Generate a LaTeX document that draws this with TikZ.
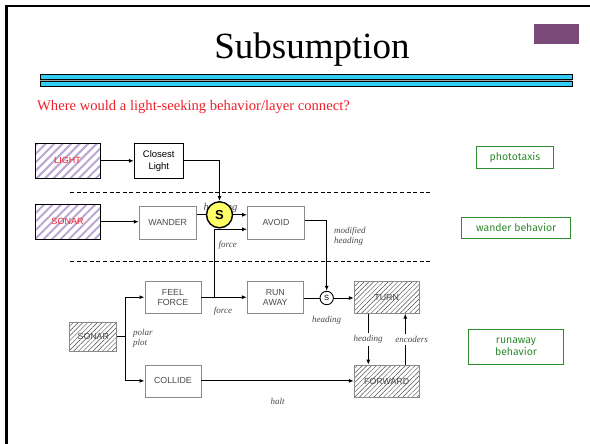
\documentclass[tikz,border=0pt]{standalone}
\usepackage{fontspec}
\setmainfont{Liberation Serif}
\setsansfont{Liberation Sans}
\newfontfamily\notefont{Fira Sans}
\usetikzlibrary{arrows.meta,patterns.meta}

\definecolor{slidepurple}{HTML}{7B4A78}
\definecolor{barcyan}{HTML}{33CCF5}
\definecolor{hatchpurple}{HTML}{BBA6D2}
\definecolor{questred}{HTML}{F0202A}
\definecolor{layergreen}{HTML}{2E8B2E}
\definecolor{boxgrey}{HTML}{8A8A8A}
\definecolor{textgrey}{HTML}{4A4A4A}
\definecolor{sensyellow}{HTML}{FFFF66}

\tikzset{
  sensorbox/.style={draw=black, line width=0.9pt, inner sep=0pt,
    pattern={Lines[angle=45,distance=6pt,line width=2pt]}, pattern color=hatchpurple,
    text=questred, font=\sffamily\fontsize{9}{10}\selectfont},
  plainbox/.style={draw=black, line width=0.9pt, inner sep=0pt, fill=white,
    align=center, font=\sffamily\fontsize{9.5}{11.5}\selectfont},
  behbox/.style={draw=boxgrey, line width=0.8pt, inner sep=0pt, fill=white,
    align=center, text=textgrey, font=\sffamily\fontsize{8.8}{10.2}\selectfont},
  hatchbox/.style={draw=boxgrey, line width=0.8pt, inner sep=0pt,
    pattern={Lines[angle=45,distance=3.4pt,line width=0.45pt]}, pattern color=textgrey,
    text=textgrey, align=center, font=\sffamily\fontsize{8.8}{10.2}\selectfont},
  layerbox/.style={draw=layergreen, line width=1.1pt, inner sep=0pt, fill=white,
    text=layergreen, align=center, font=\notefont\fontsize{10.5}{12}\selectfont},
  suppress/.style={circle, draw=black, line width=1.4pt, fill=sensyellow, inner sep=0pt,
    minimum size=26pt, font=\sffamily\bfseries\fontsize{13}{13}\selectfont},
  smallsup/.style={circle, draw=black, line width=0.9pt, fill=white, inner sep=0pt,
    minimum size=13.4pt, font=\sffamily\fontsize{7.5}{7.5}\selectfont},
  wire/.style={line width=1pt, draw=black},
  arr/.style={wire, -{Latex[length=5pt,width=4pt]}},
  lbl/.style={font=\itshape\fontsize{9}{10}\selectfont, text=textgrey, inner sep=0pt},
  gaplbl/.style={lbl, fill=white, inner xsep=0.5pt, inner ysep=2pt},
  layersep/.style={line width=0.8pt, dash pattern=on 4pt off 2.6pt},
}

\begin{document}
\begin{tikzpicture}[x=1pt,y=-1pt]
\useasboundingbox (0,0) rectangle (590,444);
\fill[white] (0,0) rectangle (590,444);

% slide frame
\draw[line width=2.3pt] (6.5,444) -- (6.5,5.8) -- (590,5.8);
\fill[slidepurple] (534,24) rectangle (579,43.7);

% title and rule
\node[anchor=base, font=\fontsize{37}{40}\selectfont] (title) at (312,59) {Subsumption};
\fill[black!35] (40,79.5) rectangle (572,81);
\draw[line width=0.7pt, fill=barcyan] (40,74) rectangle (572,79.5);
\draw[line width=0.7pt, fill=barcyan] (40,81) rectangle (572,86.5);

\node[anchor=base west, text=questred, inner sep=0pt, font=\fontsize{14.6}{16}\selectfont] (quest) at (37,111)
  {Where would a light-seeking behavior/layer connect?};

% layer separators
\draw[layersep] (70,192.3) -- (430,192.3);
\draw[layersep] (70,261.7) -- (430,261.7);

% phototaxis layer
\node[sensorbox, minimum width=65pt, minimum height=35pt] (light) at (67.5,160.8) {LIGHT};
\node[plainbox, minimum width=49pt, minimum height=35pt] (closest) at (158.8,160.8) {Closest\\Light};

% wander layer
\node[sensorbox, minimum width=65pt, minimum height=35pt] (sonarw) at (67.5,221.7) {SONAR};
\node[behbox, minimum width=57pt, minimum height=33pt] (wander) at (167.7,222.7) {WANDER};
\node[behbox, minimum width=57pt, minimum height=33pt] (avoid) at (276,222.7) {AVOID};
% the heading label sits behind the suppressor, only its ends show
\node[lbl, font=\itshape\fontsize{10.5}{11}\selectfont] (headw) at (220.5,207.5) {heading};
\node[suppress] (sbig) at (219.5,214.8) {S};

% runaway layer
\node[hatchbox, minimum width=47pt, minimum height=29pt] (sonarr) at (93.3,336.7) {SONAR};
\node[behbox, minimum width=56pt, minimum height=32pt] (feel) at (172.9,297.2) {FEEL\\FORCE};
\node[behbox, minimum width=56pt, minimum height=32pt] (run) at (275.3,297.2) {RUN\\AWAY};
\node[behbox, minimum width=56pt, minimum height=32pt] (collide) at (172.9,380.9) {COLLIDE};
\node[smallsup] (ssmall) at (326.7,298) {S};
\node[hatchbox, minimum width=65pt, minimum height=32pt] (turn) at (386.7,297.2) {TURN};
\node[hatchbox, minimum width=65pt, minimum height=32pt] (forward) at (386.7,381.1) {FORWARD};

% layer names
\node[layerbox, minimum width=76.6pt, minimum height=21.6pt] (photo) at (515,157.5) {phototaxis};
\node[layerbox, minimum width=109pt, minimum height=21pt] (wanderl) at (516.2,227.8) {wander behavior};
\node[layerbox, minimum width=94.6pt, minimum height=35.3pt] (runl) at (516,346.7) {runaway\\behavior};

% connectors
\draw[arr] (light) -- (closest);
\draw[arr] (closest.east) -| (sbig.north);
\draw[arr] (sonarw) -- (wander.west |- sonarw.east);
\draw[wire] (wander.east |- sbig.west) -- (sbig.west);
\draw[arr] (sbig.east) -- (sbig.east -| avoid.west);

\coordinate (fj) at (214.5,297.2);
\coordinate (sp) at (125.7,336.7);
\draw[arr] (feel.east) -- (run.west);
\draw[arr] (fj) |- ([yshift=-6.6pt]avoid.west);
\draw[arr] ([yshift=2.7pt]avoid.east) -| (ssmall.north);
\draw[wire] (run.east |- ssmall.west) -- (ssmall.west);
\draw[arr] (ssmall.east) -- (ssmall.east -| turn.west);
\draw[wire] (sonarr.east) -- (sp);
\draw[arr] (sp) |- (feel.west);
\draw[arr] (sp) |- (collide.west);
\draw[arr] (collide.east) -- (forward.west |- collide.east);
\draw[arr] ([xshift=-18.4pt]turn.south) -- ([xshift=-18.4pt]forward.north);
\draw[arr] ([xshift=18.6pt]forward.north) -- ([xshift=18.6pt]turn.south);

% signal labels
\node[lbl, anchor=west] (forcea) at (218.5,245.5) {force};
\node[lbl, anchor=west, align=left] (modh) at (334,236.7) {modified\\heading};
\node[lbl] (forceb) at (223,311) {force};
\node[lbl] (heads) at (326.7,320.5) {heading};
\node[lbl, anchor=west, align=left] (polar) at (133,338.7) {polar\\plot};
\node[gaplbl] (headt) at (368,339.5) {heading};
\node[gaplbl] (enc) at (411.7,339.5) {encoders};
\node[lbl] (halt) at (277.7,401.5) {halt};
\end{tikzpicture}
\end{document}
